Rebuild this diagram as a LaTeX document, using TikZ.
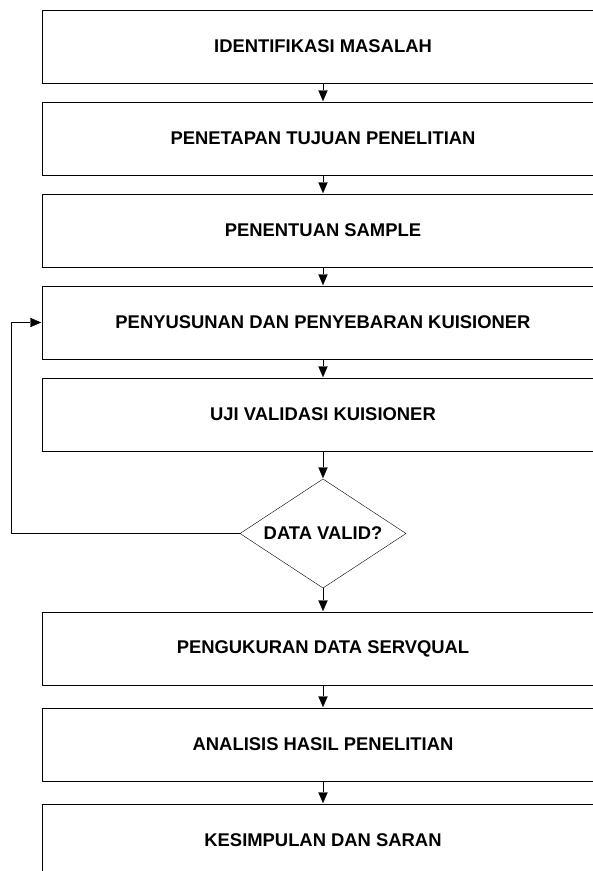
\documentclass[tikz,border=0pt]{standalone}
\usepackage{fontspec}
\setmainfont{Liberation Sans}
\usetikzlibrary{positioning, arrows.meta, shapes.geometric}
\tikzset{
    proc/.style={draw, rectangle, minimum width=562pt, minimum height=73pt, inner sep=0pt, outer sep=0pt},
    decide/.style={draw, diamond, aspect=1.52, minimum width=166pt, minimum height=109pt, inner sep=0pt, outer sep=0pt},
    every node/.append style={font=\fontsize{18.4}{22}\selectfont\bfseries},
}

\begin{document}
\begin{tikzpicture}
    \tikzset{
      ->,
      >={Triangle[length=12pt, width=10pt]},
      line width=1pt,
      node distance=19pt
    }
    \useasboundingbox (0,0) rectangle (593pt,-871pt);

    \node[proc] (b0) at (323pt,-46.5pt) {IDENTIFIKASI MASALAH};
    \node[proc, below=of b0] (b1) {PENETAPAN TUJUAN PENELITIAN};
    \node[proc, below=of b1] (b2) {PENENTUAN SAMPLE};
    \node[proc, below=of b2] (b3) {PENYUSUNAN DAN PENYEBARAN KUISIONER};
    \node[proc, below=of b3] (b4) {UJI VALIDASI KUISIONER};
    \node[decide, below=28pt of b4] (d0) {DATA VALID?};
    \node[proc, below=24pt of d0] (b5) {PENGUKURAN DATA SERVQUAL};
    \node[proc, below=23pt of b5] (b6) {ANALISIS HASIL PENELITIAN};
    \node[proc, below=23pt of b6] (b7) {KESIMPULAN DAN SARAN};

    \coordinate[left=229pt of d0.west] (loop);

    \draw (b0) edge (b1);
    \draw (b1) edge (b2);
    \draw (b2) edge (b3);
    \draw (b3) edge (b4);
    \draw (b4) edge (d0);
    \draw (d0) edge (b5);
    \draw (b5) edge (b6);
    \draw (b6) edge (b7);

    % back to the questionnaire when the data is not valid
    \draw (d0.west) -- (loop) |- (b3.west);
\end{tikzpicture}
\end{document}
